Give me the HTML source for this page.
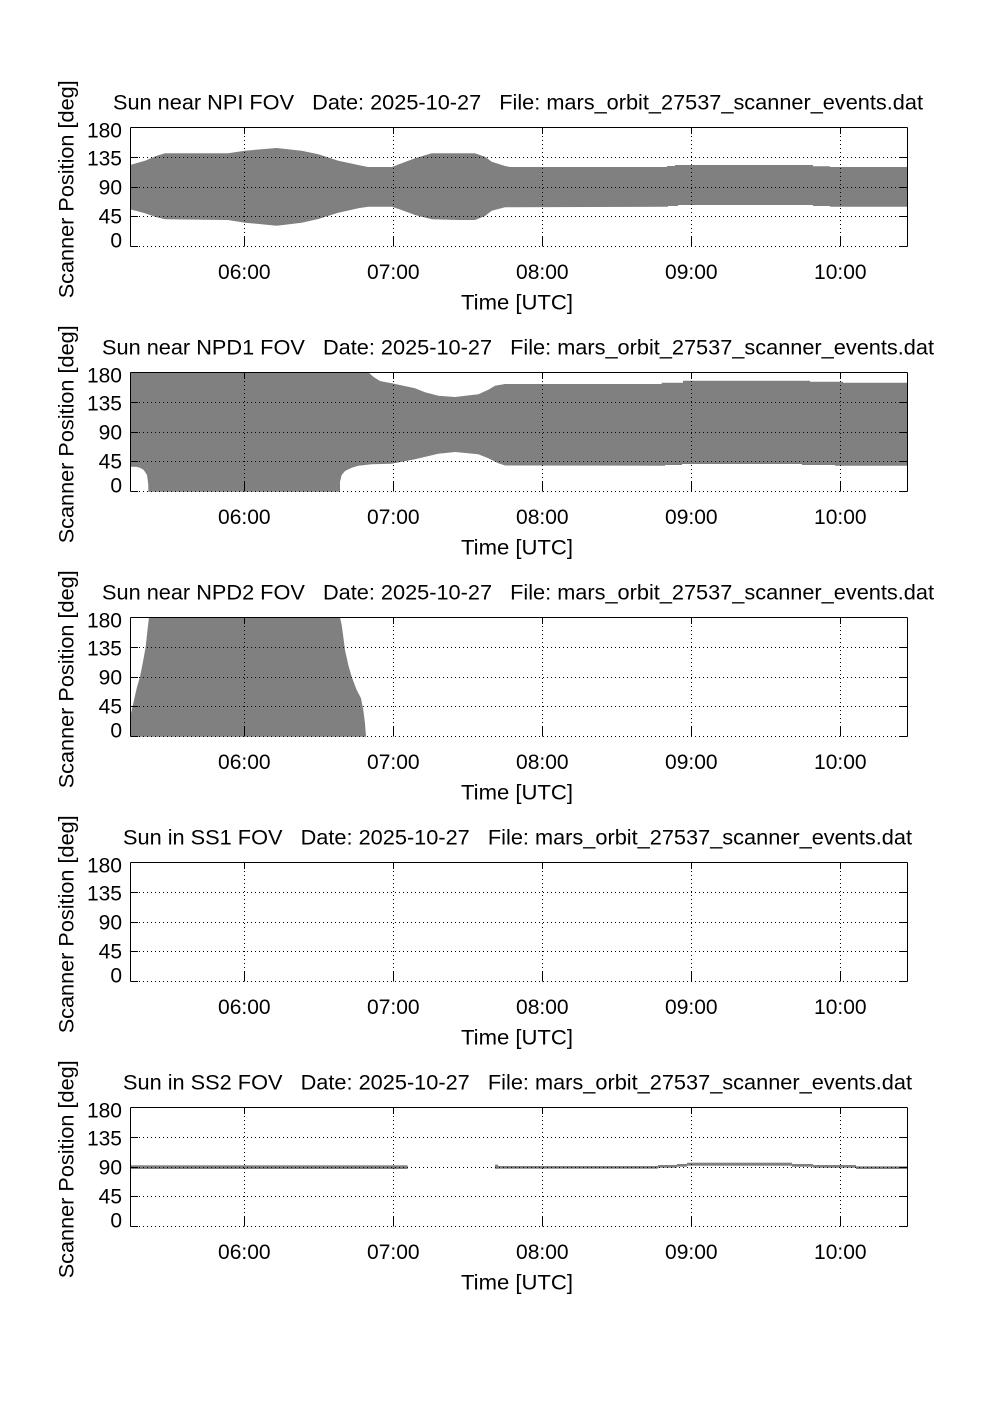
<!DOCTYPE html>
<html>
<head>
<meta charset="utf-8">
<style>
html,body{margin:0;padding:0;background:#fff;}
svg{display:block;}
text{font-family:"Liberation Sans",Arial,Helvetica,sans-serif;font-size:21px;fill:#000;}
.grid{stroke:#000;stroke-width:1;stroke-dasharray:1 3;fill:none;}
.ax{stroke:#000;stroke-width:1;fill:none;}
</style>
</head>
<body>
<svg width="1002" height="1419" viewBox="0 0 1002 1419" xmlns="http://www.w3.org/2000/svg">
<rect x="0" y="0" width="1002" height="1419" fill="#fff"/>

<!-- fills -->
<path fill="#808080" d="M130,165 L145,160.7 L156.7,155.7 L165,153.3 L228,153.3 L245,150.7 L276.7,148 L301.7,150.7 L318.3,154.3 L338.3,160.7 L358.3,165 L368,167 L392,167 L401.7,163.3 L415,158.3 L431.7,153.3 L475,153.3 L485,156.7 L491.7,161.7 L505,166 L510,167 L667,167 L667,166 L675,166 L675,165 L813,165 L813,166.3 L830,166.3 L830,167 L907,167 L907,206.7 L830,206.7 L830,206 L813,206 L813,205 L678,205 L678,206 L668,206 L668,206.7 L505,207.3 L491.7,210.7 L485,216 L475,220 L458,220 L431.7,219.3 L415,215 L401.7,210 L392,206.7 L368,206.7 L358.3,208.3 L338.3,212.7 L318.3,219 L301.7,222.7 L276.7,225.7 L245,222.7 L228,220 L165,219.3 L156.7,217.3 L145,213.3 L130,209.3 Z"/>

<path fill="#808080" d="M130,372.3 L368.3,372.3 L373.3,376.7 L380,381 L391.7,383.3 L415,388.3 L425,392.3 L438.3,395.7 L455,397 L478.3,394.3 L488.3,389.7 L495,385.7 L505,384 L661.7,384 L661.7,382.7 L683,382.7 L683,380.7 L810,380.7 L810,381.7 L843,381.7 L843,382.7 L907,382.7 L907,465.7 L835,465.7 L835,465 L802,465 L802,464 L682,464 L682,465 L665,465 L665,465.7 L505,465.5 L498.3,463.3 L488.3,458.3 L478.3,454.3 L455,452 L438.3,453.7 L415,459.3 L391.7,463.7 L371.7,464.3 L358.3,465.7 L351.7,467.7 L345,471 L341.7,475 L340,481.7 L340,491.7 L148.3,491.7 L148.3,485 L147.7,480 L147,475 L145.7,473 L143.7,470 L140,467.8 L136,466.7 L130,466.7 Z"/>

<path fill="#808080" d="M149,617.3 L340,617.3 L341.7,625 L343.3,636.7 L345,650 L348.3,665 L351.7,676.7 L356.7,690 L361,698.3 L363.3,710 L365,723.3 L366,736.7 L131,736.7 L131,713.3 L133.3,703.3 L136.7,688.3 L140,676.7 L143.3,660 L145.7,646.7 L147.3,631.7 Z"/>

<g fill="#808080">
<rect x="131" y="1165.3" width="276.7" height="3.7"/>
<rect x="495" y="1164.7" width="3" height="4"/>
<rect x="495" y="1166" width="163" height="2.7"/>
<rect x="658" y="1165" width="19" height="2.7"/>
<rect x="677" y="1164" width="10" height="2.7"/>
<rect x="687" y="1162.7" width="105" height="3"/>
<rect x="792" y="1164" width="21" height="2.7"/>
<rect x="813" y="1165" width="43" height="2.7"/>
<rect x="856" y="1166.3" width="51" height="2.7"/>
</g>

<!-- panel template repeated -->
<defs>
<g id="axes">
  <g class="grid" shape-rendering="crispEdges">
    <line x1="131" y1="157.5" x2="907" y2="157.5"/>
    <line x1="131" y1="187.5" x2="907" y2="187.5"/>
    <line x1="131" y1="216.5" x2="907" y2="216.5"/>
    <line x1="131" y1="246.5" x2="907" y2="246.5"/>
    <line x1="244.5" y1="128" x2="244.5" y2="246"/>
    <line x1="393.5" y1="128" x2="393.5" y2="246"/>
    <line x1="542.5" y1="128" x2="542.5" y2="246"/>
    <line x1="691.5" y1="128" x2="691.5" y2="246"/>
    <line x1="840.5" y1="128" x2="840.5" y2="246"/>
  </g>
  <g class="ax" shape-rendering="crispEdges">
    <line x1="130.5" y1="127.5" x2="907.5" y2="127.5"/>
    <line x1="130.5" y1="127.5" x2="130.5" y2="246.5"/>
    <line x1="907.5" y1="127.5" x2="907.5" y2="246.5"/>
    <!-- left ticks -->
    <line x1="130.5" y1="157.5" x2="138" y2="157.5"/>
    <line x1="130.5" y1="187.5" x2="138" y2="187.5"/>
    <line x1="130.5" y1="216.5" x2="138" y2="216.5"/>
    <line x1="130.5" y1="246.5" x2="138" y2="246.5"/>
    <!-- right ticks -->
    <line x1="899" y1="157.5" x2="907.5" y2="157.5"/>
    <line x1="899" y1="187.5" x2="907.5" y2="187.5"/>
    <line x1="899" y1="216.5" x2="907.5" y2="216.5"/>
    <line x1="899" y1="246.5" x2="907.5" y2="246.5"/>
    <!-- bottom ticks -->
    <line x1="244.5" y1="237" x2="244.5" y2="246.5"/>
    <line x1="393.5" y1="237" x2="393.5" y2="246.5"/>
    <line x1="542.5" y1="237" x2="542.5" y2="246.5"/>
    <line x1="691.5" y1="237" x2="691.5" y2="246.5"/>
    <line x1="840.5" y1="237" x2="840.5" y2="246.5"/>
    <!-- top ticks -->
    <line x1="244.5" y1="127.5" x2="244.5" y2="134"/>
    <line x1="393.5" y1="127.5" x2="393.5" y2="134"/>
    <line x1="542.5" y1="127.5" x2="542.5" y2="134"/>
    <line x1="691.5" y1="127.5" x2="691.5" y2="134"/>
    <line x1="840.5" y1="127.5" x2="840.5" y2="134"/>
  </g>
  <g text-anchor="end">
    <text x="122" y="137.3">180</text>
    <text x="122" y="165.7">135</text>
    <text x="122" y="194.3">90</text>
    <text x="122" y="223.3">45</text>
    <text x="122" y="247.3">0</text>
  </g>
  <g text-anchor="middle">
    <text x="244.3" y="279">06:00</text>
    <text x="393.3" y="279">07:00</text>
    <text x="542.3" y="279">08:00</text>
    <text x="691.3" y="279">09:00</text>
    <text x="840.3" y="279">10:00</text>
  </g>
  <text x="461" y="309.3" textLength="112" lengthAdjust="spacingAndGlyphs">Time [UTC]</text>
  <text transform="translate(73.3,189.3) rotate(-90)" text-anchor="middle" textLength="218" lengthAdjust="spacingAndGlyphs">Scanner Position [deg]</text>
</g>
</defs>

<use href="#axes" x="0" y="0"/>
<use href="#axes" x="0" y="245"/>
<use href="#axes" x="0" y="490"/>
<use href="#axes" x="0" y="735"/>
<use href="#axes" x="0" y="980"/>

<!-- titles -->
<text x="113" y="109.3" textLength="810" lengthAdjust="spacingAndGlyphs" xml:space="preserve" style="white-space:pre">Sun near NPI FOV   Date: 2025-10-27   File: mars_orbit_27537_scanner_events.dat</text>
<text x="102" y="354.3" textLength="832" lengthAdjust="spacingAndGlyphs" xml:space="preserve" style="white-space:pre">Sun near NPD1 FOV   Date: 2025-10-27   File: mars_orbit_27537_scanner_events.dat</text>
<text x="102" y="599.3" textLength="832" lengthAdjust="spacingAndGlyphs" xml:space="preserve" style="white-space:pre">Sun near NPD2 FOV   Date: 2025-10-27   File: mars_orbit_27537_scanner_events.dat</text>
<text x="123" y="844.3" textLength="789" lengthAdjust="spacingAndGlyphs" xml:space="preserve" style="white-space:pre">Sun in SS1 FOV   Date: 2025-10-27   File: mars_orbit_27537_scanner_events.dat</text>
<text x="123" y="1089.3" textLength="789" lengthAdjust="spacingAndGlyphs" xml:space="preserve" style="white-space:pre">Sun in SS2 FOV   Date: 2025-10-27   File: mars_orbit_27537_scanner_events.dat</text>
</svg>
</body>
</html>
